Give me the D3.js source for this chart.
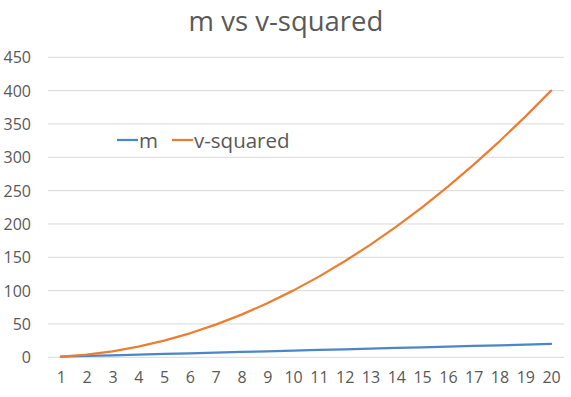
<!DOCTYPE html>
<html><head><meta charset="utf-8">
<script src="https://cdn.jsdelivr.net/npm/d3@7"></script>
<style>body{margin:0;background:#fff}svg{display:block}</style>
</head><body>
<svg id="c" width="571" height="397"></svg>
<script>
const categories = [1,2,3,4,5,6,7,8,9,10,11,12,13,14,15,16,17,18,19,20];
const mValues = [1,2,3,4,5,6,7,8,9,10,11,12,13,14,15,16,17,18,19,20];
const vSquaredValues = [1,4,9,16,25,36,49,64,81,100,121,144,169,196,225,256,289,324,361,400];
const yTicks = [0,50,100,150,200,250,300,350,400,450];
const seriesNames = ["m","v-squared"];
const colors = ["#4A86C8","#ED7D31"];

(function(){
const svg = d3.select("#c");
const font = "'Open Sans', 'Noto Sans', sans-serif";
const textColor = "#595959";
const pLeft = 48, pRight = 564, pTop = 57.3, pBottom = 357.3;

const x = d3.scalePoint().domain(categories).range([pLeft, pRight]).padding(0.5);
const y = d3.scaleLinear().domain([0,450]).range([pBottom, pTop]);

// gridlines
svg.append("g").selectAll("line").data(yTicks).join("line")
  .attr("x1", pLeft).attr("x2", pRight)
  .attr("y1", d => y(d)).attr("y2", d => y(d))
  .attr("stroke", "#d9d9d9").attr("stroke-width", 1);

// y axis labels
const yAxis = d3.axisLeft(y).tickValues(yTicks).tickSize(0).tickPadding(0);
const ya = svg.append("g").attr("transform", `translate(31,0.5)`).call(yAxis);
ya.select(".domain").remove();
ya.selectAll("text").attr("font-family", font).attr("font-size", 16).attr("fill", textColor);

// x axis labels
const xAxis = d3.axisBottom(x).tickSize(0).tickPadding(0);
const xa = svg.append("g").attr("transform", `translate(0,371.5)`).call(xAxis);
xa.select(".domain").remove();
xa.selectAll("text").attr("font-family", font).attr("font-size", 16).attr("fill", textColor);

// lines
const line = d3.line().x((d,i) => x(categories[i])).y(d => y(d));
[mValues, vSquaredValues].forEach((vals, i) => {
  svg.append("path").datum(vals).attr("d", line)
    .attr("fill", "none").attr("stroke", colors[i]).attr("stroke-width", 2.25)
    .attr("stroke-linejoin", "round").attr("stroke-linecap", "round");
});

// title
svg.append("text").attr("x", 286).attr("y", 31).attr("text-anchor", "middle")
  .attr("font-family", font).attr("font-size", 27.5).attr("fill", textColor)
  .text("m vs v-squared");

// legend
const legend = [
  {name: seriesNames[0], color: colors[0], x: 117},
  {name: seriesNames[1], color: colors[1], x: 172}
];
legend.forEach(l => {
  svg.append("line").attr("x1", l.x).attr("x2", l.x + 21).attr("y1", 140).attr("y2", 140)
    .attr("stroke", l.color).attr("stroke-width", 2.25);
  svg.append("text").attr("x", l.x + 22).attr("y", 147.5)
    .attr("font-family", font).attr("font-size", 20.5).attr("fill", textColor).text(l.name);
});
})();
</script>
</body></html>
